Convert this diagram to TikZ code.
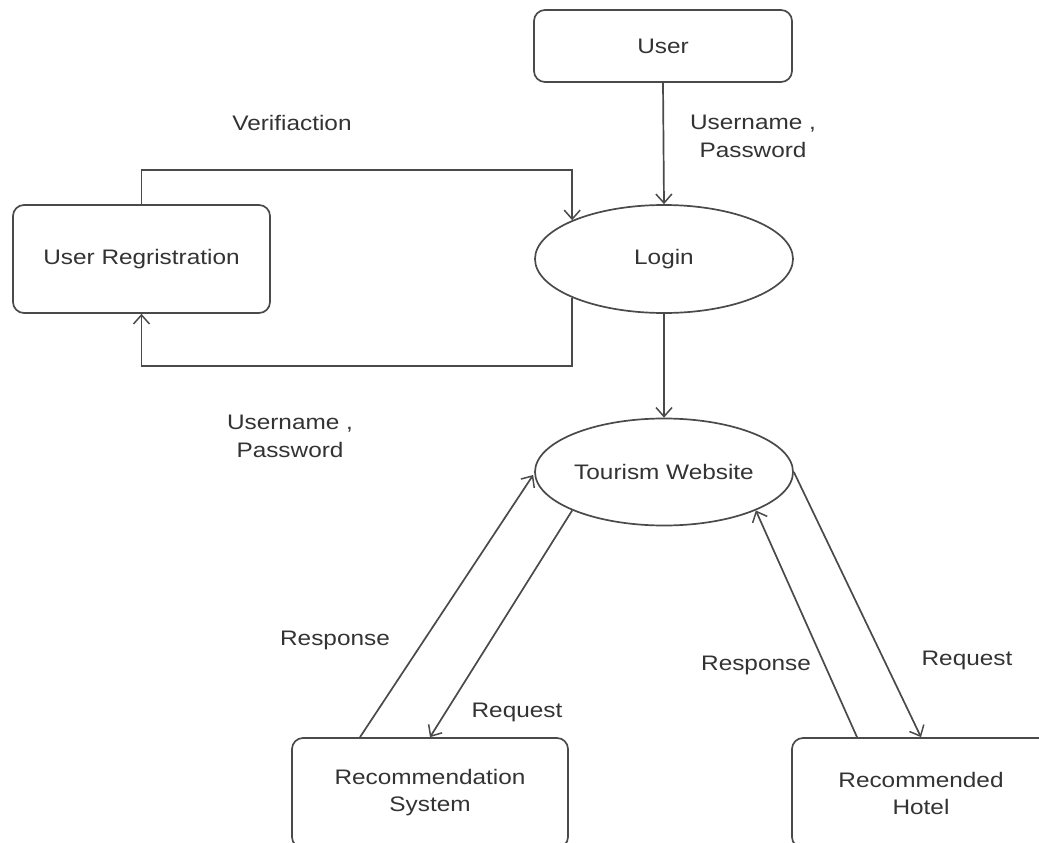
\documentclass[tikz,border=0pt]{standalone}
\usepackage{fontspec}
\setmainfont{Liberation Sans}[FakeStretch=1.16]
\usetikzlibrary{shapes.geometric,arrows.meta,calc}
\definecolor{ln}{HTML}{4A4A4A}
\definecolor{tx}{HTML}{333333}
\begin{document}
\begin{tikzpicture}[x=1pt,y=-1pt,
  every node/.style={font=\fontsize{21}{28}\selectfont, text=tx},
  box/.style={draw=ln, line width=1.7pt, rounded corners=11pt, fill=white, align=center, inner sep=0pt},
  oval/.style={draw=ln, line width=1.7pt, ellipse, fill=white, inner sep=0pt},
  arr/.style={draw=ln, line width=1.7pt, -{Straight Barb[length=9pt,width=16pt,line width=1.5pt]}},
  lbl/.style={align=center, inner sep=0pt}]
\useasboundingbox (0,0) rectangle (1039,843);
\fill[white] (0,0) rectangle (1039,843);

\node[box, minimum width=258pt, minimum height=72pt] (user) at (663,46) {User};
\node[oval, minimum width=258pt, minimum height=108pt] (login) at (664,259) {Login};
\node[box, minimum width=257pt, minimum height=108pt] (reg) at (141.5,259) {User Regristration};
\node[oval, minimum width=258pt, minimum height=107pt] (tour) at (664,472) {Tourism Website};
\node[box, minimum width=276pt, minimum height=110pt] (recsys) at (430,793) {Recommendation\\[-1pt]System};
\node[box, minimum width=258pt, minimum height=110pt] (hotel) at (921,793) {Recommended\\[-1pt]Hotel};

\coordinate (vtop) at (0,170);
\coordinate (vbot) at (0,366);

\draw[arr] (user.south) -- (login.north);
\draw[arr] (reg.north) -- (reg.north |- vtop) -| (login.north west);
\draw[arr] (login.south west) -- (login.south west |- vbot) -| (reg.south);
\draw[arr] (login.south) -- (tour.north);

\draw[arr] ($(recsys.north)+(-70,0)$) -- ($(tour.west)+(-1,3)$);
\draw[arr] (tour.south west) -- (recsys.north);
\draw[arr] ($(hotel.north)+(-64,0)$) -- (tour.south east);
\draw[arr] (tour.east) -- (hotel.north);

\node[lbl] (l1) at (753,136) {Username ,\\Password};
\node[lbl] (l2) at (292,123) {Verifiaction};
\node[lbl] (l3) at (290,436) {Username ,\\Password};
\node[lbl] (l4) at (335,640) {Response};
\node[lbl] (l5) at (517,712) {Request};
\node[lbl] (l6) at (756,665) {Response};
\node[lbl] (l7) at (967,660) {Request};
\end{tikzpicture}
\end{document}
